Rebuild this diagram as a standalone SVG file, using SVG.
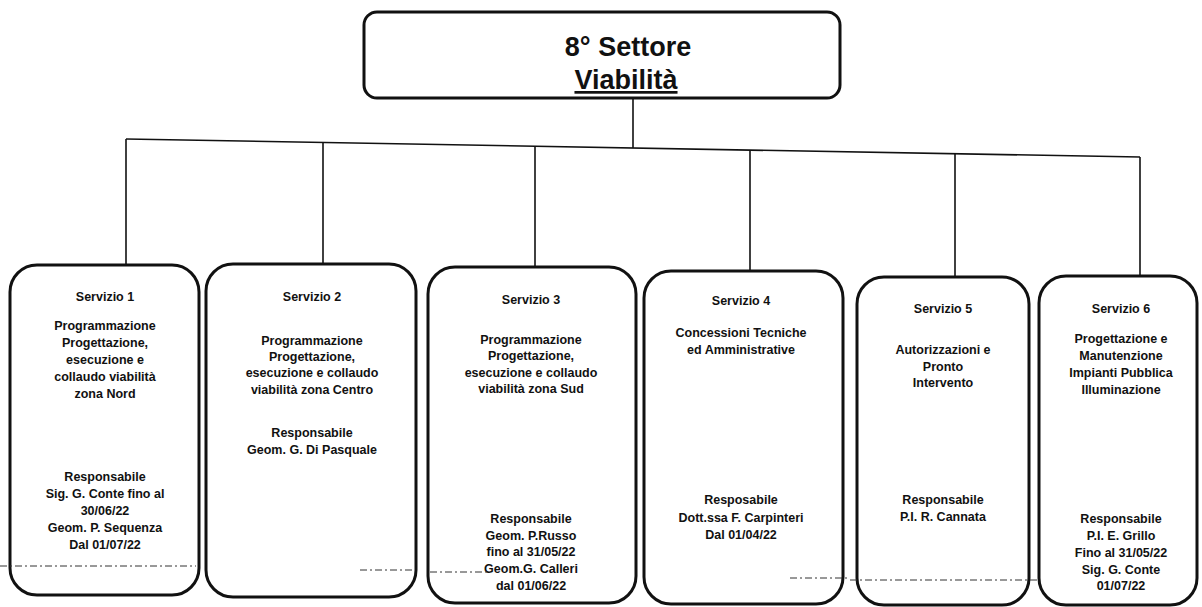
<svg xmlns="http://www.w3.org/2000/svg" width="1202" height="607" viewBox="0 0 1202 607">
  <style>
    .box { fill: #ffffff; stroke: #111111; stroke-width: 3; }
    .link { fill: none; stroke: #111111; stroke-width: 1.6; }
    .rule { fill: none; stroke: #333333; stroke-width: 1; stroke-dasharray: 7 3 2 3; }
    .t { font-family: "Liberation Sans", Arial, sans-serif; font-size: 12.5px; font-weight: bold; fill: #111111; text-anchor: middle; }
    .title { font-family: "Liberation Sans", Arial, sans-serif; font-size: 27px; font-weight: bold; fill: #111111; text-anchor: middle; }
  </style>
  <rect width="1202" height="607" fill="#ffffff"/>

  <!-- connectors: root drop, slanted bus, six drops -->
  <g id="connectors">
    <line class="link" x1="633" y1="98" x2="633" y2="148"/>
    <line class="link" x1="126" y1="139" x2="1140" y2="157"/>
    <line class="link" x1="126" y1="139" x2="126" y2="265"/>
    <line class="link" x1="323" y1="142.5" x2="323" y2="264"/>
    <line class="link" x1="535" y1="146.3" x2="535" y2="267"/>
    <line class="link" x1="750" y1="150" x2="750" y2="271"/>
    <line class="link" x1="955" y1="153.7" x2="955" y2="277"/>
    <line class="link" x1="1140" y1="157" x2="1140" y2="276"/>
  </g>

  <!-- root: sector -->
  <g id="settore">
    <rect class="box" x="364" y="12" width="476" height="86" rx="13"/>
    <text class="title" x="628" y="56">8° Settore</text>
    <text class="title" x="626" y="89" text-decoration="underline">Viabilità</text>
  </g>

  <g id="servizio1">
    <rect class="box" x="10" y="265" width="189" height="330" rx="27"/>
    <text class="t" x="105" y="301">Servizio 1</text>
    <text class="t" x="105" y="330">Programmazione</text>
    <text class="t" x="105" y="347">Progettazione,</text>
    <text class="t" x="105" y="364">esecuzione e</text>
    <text class="t" x="105" y="381">collaudo viabilità</text>
    <text class="t" x="105" y="398">zona Nord</text>
    <text class="t" x="105" y="481">Responsabile</text>
    <text class="t" x="105" y="498">Sig. G. Conte fino al</text>
    <text class="t" x="105" y="515">30/06/22</text>
    <text class="t" x="105" y="532">Geom. P. Sequenza</text>
    <text class="t" x="105" y="549">Dal 01/07/22</text>
  </g>

  <g id="servizio2">
    <rect class="box" x="206" y="264" width="210" height="333" rx="27"/>
    <text class="t" x="312" y="301">Servizio 2</text>
    <text class="t" x="312" y="345">Programmazione</text>
    <text class="t" x="312" y="361">Progettazione,</text>
    <text class="t" x="312" y="377">esecuzione e collaudo</text>
    <text class="t" x="312" y="394">viabilità zona Centro</text>
    <text class="t" x="312" y="437">Responsabile</text>
    <text class="t" x="312" y="454">Geom. G. Di Pasquale</text>
  </g>

  <g id="servizio3">
    <rect class="box" x="428" y="267" width="208" height="336" rx="27"/>
    <text class="t" x="531" y="304">Servizio 3</text>
    <text class="t" x="531" y="344">Programmazione</text>
    <text class="t" x="531" y="360">Progettazione,</text>
    <text class="t" x="531" y="377">esecuzione e collaudo</text>
    <text class="t" x="531" y="393">viabilità zona Sud</text>
    <text class="t" x="531" y="523">Responsabile</text>
    <text class="t" x="531" y="540">Geom. P.Russo</text>
    <text class="t" x="531" y="556">fino al 31/05/22</text>
    <text class="t" x="531" y="573">Geom.G. Calleri</text>
    <text class="t" x="531" y="590">dal 01/06/22</text>
  </g>

  <g id="servizio4">
    <rect class="box" x="644" y="271" width="199" height="333" rx="27"/>
    <text class="t" x="741" y="305">Servizio 4</text>
    <text class="t" x="741" y="337">Concessioni Tecniche</text>
    <text class="t" x="741" y="354">ed Amministrative</text>
    <text class="t" x="741" y="504">Resposabile</text>
    <text class="t" x="741" y="522">Dott.ssa F. Carpinteri</text>
    <text class="t" x="741" y="539">Dal 01/04/22</text>
  </g>

  <g id="servizio5">
    <rect class="box" x="857" y="277" width="172" height="328" rx="27"/>
    <text class="t" x="943" y="313">Servizio 5</text>
    <text class="t" x="943" y="354">Autorizzazioni e</text>
    <text class="t" x="943" y="371">Pronto</text>
    <text class="t" x="943" y="387">Intervento</text>
    <text class="t" x="943" y="504">Responsabile</text>
    <text class="t" x="943" y="521">P.I. R. Cannata</text>
  </g>

  <g id="servizio6">
    <rect class="box" x="1039" y="276" width="158" height="329" rx="27"/>
    <text class="t" x="1121" y="313">Servizio 6</text>
    <text class="t" x="1121" y="343">Progettazione e</text>
    <text class="t" x="1121" y="360">Manutenzione</text>
    <text class="t" x="1121" y="377">Impianti Pubblica</text>
    <text class="t" x="1121" y="394">Illuminazione</text>
    <text class="t" x="1121" y="523">Responsabile</text>
    <text class="t" x="1121" y="540">P.I. E. Grillo</text>
    <text class="t" x="1121" y="557">Fino al 31/05/22</text>
    <text class="t" x="1121" y="574">Sig. G. Conte</text>
    <text class="t" x="1121" y="590">01/07/22</text>
  </g>

  <!-- broken dashed rule running across the lower band -->
  <g id="rule">
    <line class="rule" x1="0" y1="566" x2="196" y2="566"/>
    <line class="rule" x1="360" y1="570" x2="412" y2="570"/>
    <line class="rule" x1="430" y1="572" x2="490" y2="572"/>
    <line class="rule" x1="790" y1="578" x2="850" y2="578"/>
    <line class="rule" x1="850" y1="580" x2="1040" y2="580"/>
  </g>
</svg>
